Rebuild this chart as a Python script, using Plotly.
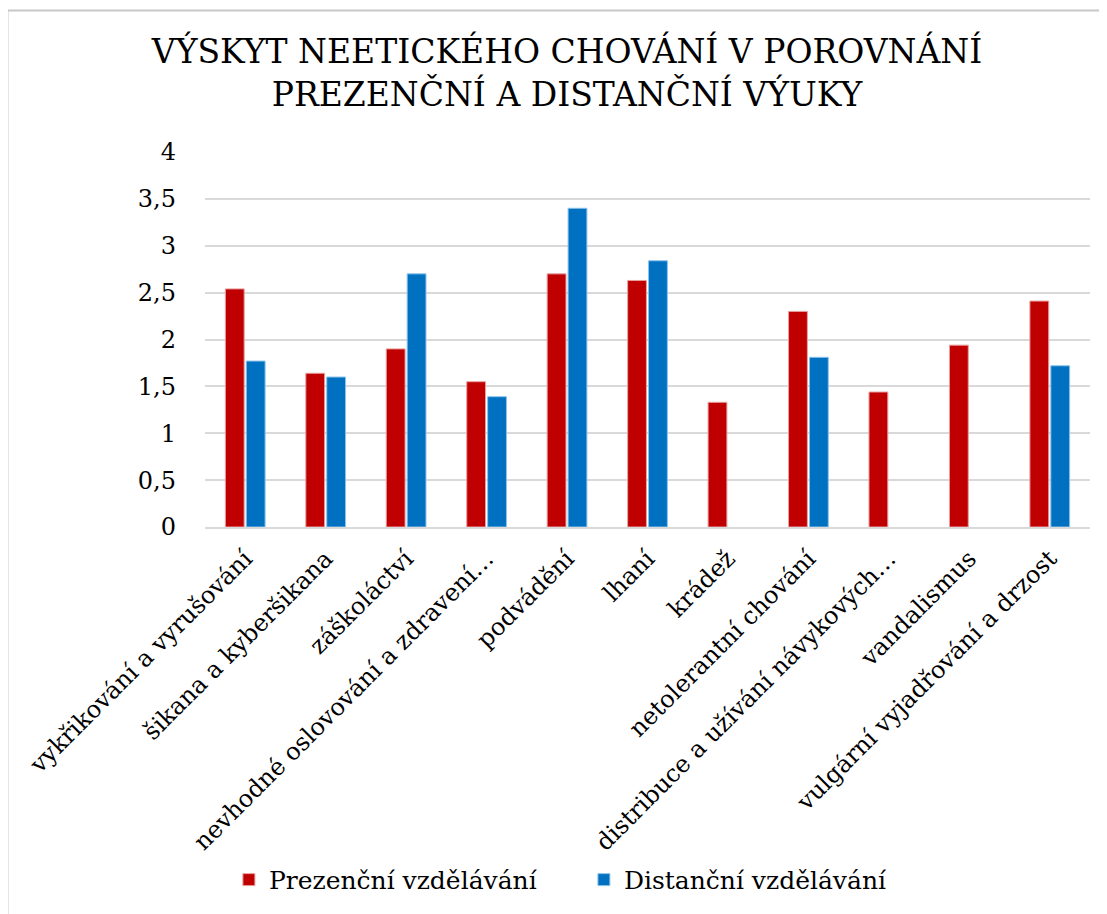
import plotly.graph_objects as go

# Data
categories = [
    "vykřikování a vyrušování",
    "šikana a kyberšikana",
    "záškoláctví",
    "nevhodné oslovování a zdravení…",
    "podvádění",
    "lhaní",
    "krádež",
    "netolerantní chování",
    "distribuce a užívání návykových…",
    "vandalismus",
    "vulgární vyjadřování a drzost",
]
prezencni = [2.54, 1.64, 1.90, 1.55, 2.70, 2.63, 1.33, 2.30, 1.44, 1.94, 2.41]
distancni = [1.77, 1.60, 2.70, 1.39, 3.40, 2.84, None, 1.81, None, None, 1.72]
y_ticks = [0, 0.5, 1, 1.5, 2, 2.5, 3, 3.5, 4]
y_tick_labels = ["0", "0,5", "1", "1,5", "2", "2,5", "3", "3,5", "4"]

serif = "DejaVu Serif"

fig = go.Figure()
fig.add_trace(go.Bar(x=categories, y=prezencni, name="Prezenční vzdělávání",
                     marker=dict(color="#C00000", line=dict(color="#E8A0A0", width=1))))
fig.add_trace(go.Bar(x=categories, y=distancni, name="Distanční vzdělávání",
                     marker=dict(color="#0070C0", line=dict(color="#8CC4EC", width=1))))

fig.update_layout(
    width=1107, height=914,
    margin=dict(l=197, r=25, t=144, b=395),
    paper_bgcolor="white", plot_bgcolor="white",
    font=dict(family=serif, color="black", size=25),
    title=dict(text="VÝSKYT NEETICKÉHO CHOVÁNÍ V POROVNÁNÍ<br>PREZENČNÍ A DISTANČNÍ VÝUKY",
               x=0.505, xanchor="center", y=0.940, yanchor="middle",
               font=dict(family=serif, size=33, color="black")),
    barmode="group", bargap=0.48, bargroupgap=0.1,
    legend=dict(orientation="h", x=0.027, xanchor="left", y=-0.941, yanchor="middle",
                font=dict(family=serif, size=25), itemwidth=30, entrywidth=310,
                traceorder="normal"),
    showlegend=True,
)
fig.update_xaxes(tickangle=-45, showline=True, linecolor="#d9d9d9", linewidth=2,
                 ticks="", showgrid=False, ticklabelstandoff=6,
                 tickfont=dict(family=serif, size=24))
fig.update_yaxes(range=[0, 4], tickvals=y_ticks, ticktext=y_tick_labels,
                 showgrid=True, gridcolor="#d9d9d9", gridwidth=2, zeroline=False,
                 showline=False, ticks="", ticklabelstandoff=28,
                 tickfont=dict(family=serif, size=24))

# outer chart border (light gray frame)
fig.add_shape(type="rect", xref="paper", yref="paper",
              x0=-0.2232, x1=1.05, y0=-1.1, y1=1.3773,
              line=dict(color="#c8c8c8", width=2), fillcolor="rgba(0,0,0,0)")

fig.write_html("out.html")
